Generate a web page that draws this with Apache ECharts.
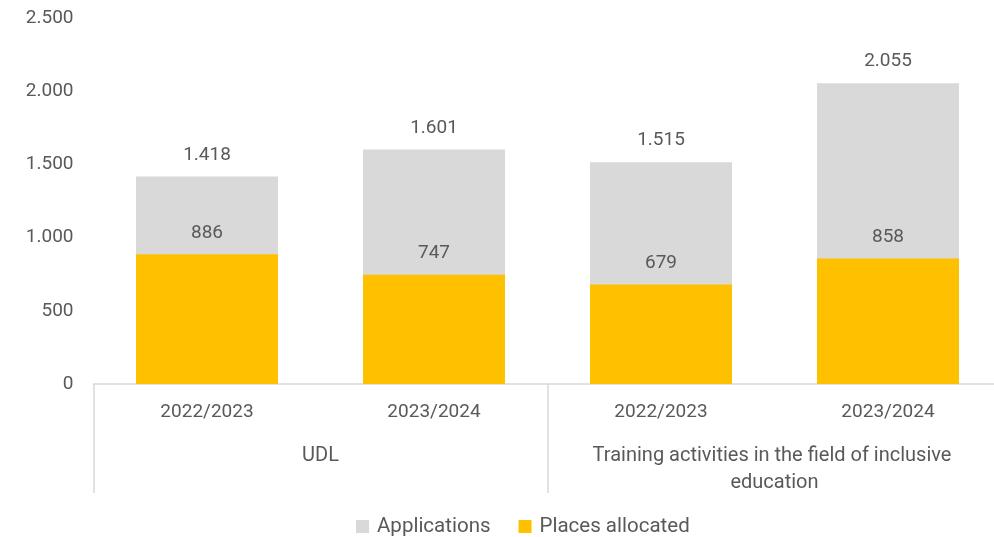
<!DOCTYPE html>
<html>
<head>
<meta charset="utf-8">
<script src="https://cdn.jsdelivr.net/npm/echarts@6/dist/echarts.min.js"></script>
<style>
  html, body { margin: 0; padding: 0; background: #fff; }
  #chart { width: 994px; height: 537px; }
</style>
</head>
<body>
<div id="chart"></div>
<script>
// Academic years (inner axis) and programme groups (outer axis)
const years = ['2022/2023', '2023/2024', '2022/2023', '2023/2024'];
const groups = ['UDL', 'Training activities in the field of inclusive education'];
const applications = [1418, 1601, 1515, 2055];
const placesAllocated = [886, 747, 679, 858];
const yTicks = [0, 500, 1000, 1500, 2000, 2500];

const FONT = 'Roboto';
const TEXT = '#595959';
const LINE = '#d9d9d9';

// Thousands separator as a dot
const fmt = v => String(v).replace(/\B(?=(\d{3})+(?!\d))/g, '.');

const chart = echarts.init(document.getElementById('chart'));
chart.setOption({
  animation: false,
  textStyle: { fontFamily: FONT },
  grid: { left: 93.5, width: 908, top: 18, bottom: 153, containLabel: false, outerBoundsMode: 'none' },
  legend: {
    bottom: 0,
    left: 356,
    padding: 0,
    itemWidth: 13,
    itemHeight: 13,
    itemGap: 28,
    icon: 'rect',
    textStyle: { fontFamily: FONT, fontSize: 20.5, color: TEXT, padding: [0, 0, 0, 3] },
    data: ['Applications', 'Places allocated']
  },
  xAxis: [
    {
      type: 'category',
      data: years,
      position: 'bottom',
      axisLine: { lineStyle: { color: LINE, width: 1.5 } },
      axisTick: { show: false },
      axisLabel: { interval: 0, fontFamily: FONT, fontSize: 19, color: TEXT, margin: 19 }
    },
    {
      type: 'category',
      data: groups,
      position: 'bottom',
      gridIndex: 0,
      axisLine: { show: false },
      axisTick: { show: true, interval: 0, length: 109, lineStyle: { color: LINE, width: 1.5 } },
      axisLabel: {
        interval: 0, fontFamily: FONT, fontSize: 20, color: TEXT, margin: 58,
        width: 400, overflow: 'break', lineHeight: 27, verticalAlign: 'top'
      }
    }
  ],
  yAxis: {
    type: 'value',
    min: yTicks[0],
    max: yTicks[yTicks.length - 1],
    interval: 500,
    axisLine: { show: false },
    axisTick: { show: false },
    splitLine: { show: false },
    axisLabel: { fontFamily: FONT, fontSize: 19, color: TEXT, margin: 20, formatter: fmt }
  },
  series: [
    {
      name: 'Applications',
      type: 'bar',
      xAxisIndex: 0,
      data: applications,
      barWidth: 142,
      barGap: '-100%',
      itemStyle: { color: '#d9d9d9' },
      label: {
        show: true, position: 'top', distance: 12,
        fontFamily: FONT, fontSize: 19, color: TEXT,
        formatter: p => fmt(p.value)
      }
    },
    {
      name: 'Places allocated',
      type: 'bar',
      xAxisIndex: 0,
      data: placesAllocated,
      barWidth: 142,
      barGap: '-100%',
      itemStyle: { color: '#ffc000' },
      label: {
        show: true, position: 'top', distance: 12,
        fontFamily: FONT, fontSize: 19, color: TEXT,
        formatter: p => fmt(p.value)
      }
    }
  ]
});
</script>
</body>
</html>
